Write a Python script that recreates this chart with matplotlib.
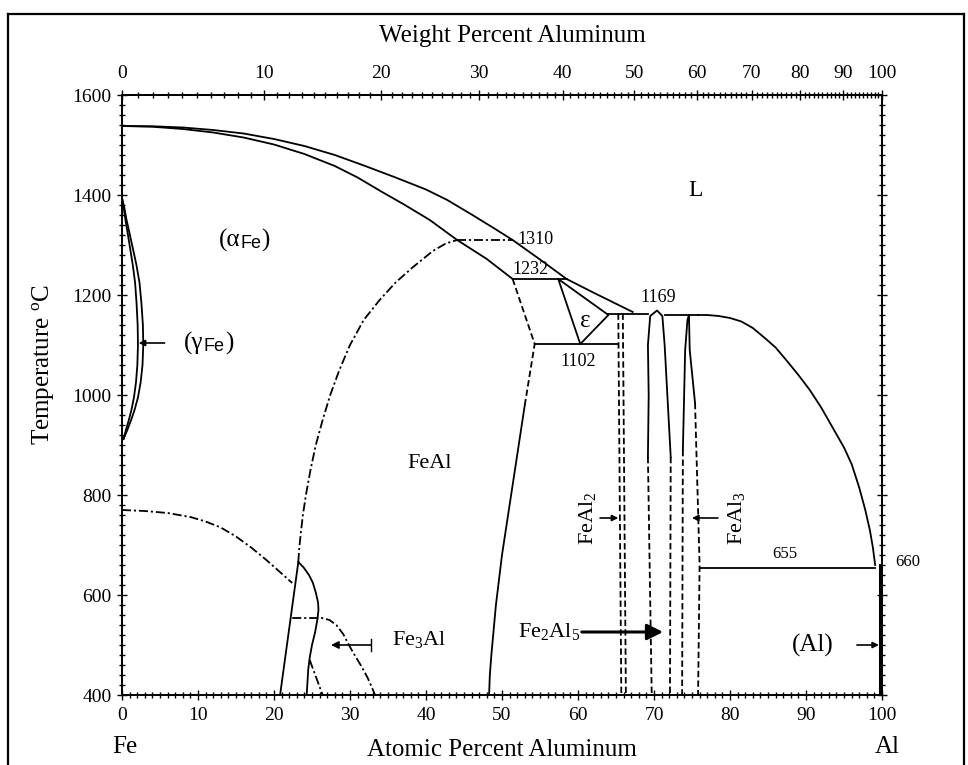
import numpy as np
import matplotlib.pyplot as plt
from matplotlib.ticker import MultipleLocator
from matplotlib.lines import Line2D

plt.rcParams['font.family'] = ['Liberation Serif', 'DejaVu Serif']
plt.rcParams['mathtext.fontset'] = 'custom'
plt.rcParams['mathtext.rm'] = 'Liberation Serif'
plt.rcParams['mathtext.it'] = 'Liberation Serif:italic'
plt.rcParams['mathtext.sf'] = 'Liberation Sans'

M_FE, M_AL = 55.845, 26.98

# liquidus / solidus on the Fe-rich side (at.% Al, deg C)
liq_x = [0, 4, 8, 12, 16, 20, 24, 28, 32, 36, 40, 42.8, 46, 49, 51.4, 55, 58.5, 62, 67.2]
liq_t = [1538, 1537.5, 1535, 1530, 1523, 1512, 1498, 1480, 1458, 1435, 1411, 1390, 1361, 1333, 1310,
         1271, 1232, 1205, 1166]
sol_x = [0, 4, 8, 12, 16, 20, 24, 28, 31, 34, 37, 40.5, 44.1, 48, 51.4]
sol_t = [1538, 1536.5, 1532, 1525, 1515, 1501, 1482, 1458, 1435, 1408, 1382, 1350, 1310, 1272, 1232]

# gamma loop
gam_t = [1394, 1375, 1350, 1330, 1295, 1260, 1225, 1185, 1140, 1100, 1060, 1025, 995, 970, 950, 930, 912]
gam_out = [0, 0.3, 0.6, 0.9, 1.4, 1.9, 2.3, 2.55, 2.75, 2.8, 2.7, 2.45, 2.1, 1.65, 1.2, 0.7, 0.2]
gam_in = [0, 0.22, 0.45, 0.68, 1.05, 1.42, 1.72, 1.91, 2.06, 2.1, 2.02, 1.84, 1.57, 1.24, 0.9, 0.52, 0.2]

# magnetic transition
cur_x = [0, 3, 6, 9, 11, 13, 15, 17, 19, 21, 22.4]
cur_t = [770, 768, 764, 756, 747, 735, 717, 695, 670, 643, 624]

# A2 / B2 ordering
b2_x = [23.2, 23.3, 23.5, 23.8, 24.2, 24.8, 25.5, 26.4, 27.4, 28.6, 30, 31.8, 33.9, 36, 38.3, 40.9,
        42.6, 44.1]
b2_t = [666, 690, 720, 760, 800, 850, 900, 950, 1000, 1050, 1100, 1150, 1190, 1225, 1256, 1288,
        1303, 1310]

# Fe3Al (D03) field
d03_left_x = [20.8, 23.2]
d03_left_t = [400, 666]
d03_right_x = [23.2, 23.9, 24.6, 25.1, 25.5, 25.8, 25.85, 25.7, 25.4, 25.0, 24.7, 24.5, 24.4, 24.3]
d03_right_t = [666, 655, 640, 625, 605, 585, 570, 550, 525, 500, 475, 450, 425, 400]
d03_dd_x = [22.4, 26.3, 27.3, 28.2, 29.1, 30, 30.8, 31.6, 32.3, 32.8, 33.3]
d03_dd_t = [554, 554, 550, 540, 522, 496, 475, 455, 435, 418, 400]
d03_short_x = [24.7, 26.4]
d03_short_t = [470, 400]

# FeAl (B2) Al-rich boundary
feal_dash_x = [51.4, 54.3, 53.0]
feal_dash_t = [1232, 1102, 980]
feal_x = [53.0, 52.5, 52.0, 51.5, 51.0, 50.5, 50.0, 49.6, 49.2, 48.9, 48.6, 48.4, 48.3]
feal_t = [980, 930, 880, 830, 780, 730, 680, 630, 580, 530, 480, 440, 400]

# epsilon triangle
eps_x = [57.4, 60.3, 64.0, 57.4]
eps_t = [1232, 1102, 1160, 1232]

# invariant lines: (x_start, x_end, T)
inv_lines = [(51.4, 58.5, 1232), (54.3, 65.3, 1102), (64.0, 69.2, 1163),
             (71.4, 75.8, 1160), (76.0, 99.1, 655)]
ord_1310 = (44.1, 51.4, 1310)

# FeAl2 double dashed boundaries
feal2_a = ([65.3, 65.7], [1163, 400])
feal2_b = ([65.9, 66.3], [1163, 400])

# Fe2Al5
fe2al5_x = [69.2, 69.3, 69.2, 69.5, 70.4, 71.1, 71.4, 72.2]
fe2al5_t = [876, 1000, 1100, 1158, 1169, 1158, 1100, 876]
fe2al5_dash_l = ([69.2, 69.7], [876, 400])
fe2al5_dash_r = ([72.2, 72.1], [876, 400])

# FeAl3
feal3_x = [73.8, 74.1, 74.4, 74.6, 74.7, 75.4]
feal3_t = [890, 1090, 1150, 1160, 1090, 984]
feal3_dash_l = ([73.8, 73.7], [890, 400])
feal3_dash_r = ([75.4, 76.0, 75.8], [984, 660, 400])

# Al-rich liquidus
liqal_x = [75.8, 77, 78.5, 80, 81.5, 83, 84.5, 86, 87.5, 89, 90.5, 92, 93.5, 95, 96, 97, 97.8, 98.4,
           98.8, 99.1]
liqal_t = [1160, 1160, 1158, 1154, 1147, 1134, 1115, 1095, 1068, 1040, 1010, 975, 935, 895, 862, 815,
           770, 730, 695, 660]

top_ticks = [0, 10, 20, 30, 40, 50, 60, 70, 80, 90, 100]


def at_to_wt(a):
    a = np.asarray(a, dtype=float)
    return 100 * a * M_AL / (a * M_AL + (100 - a) * M_FE)


def wt_to_at(w):
    w = np.asarray(w, dtype=float)
    return 100 * (w / M_AL) / (w / M_AL + (100 - w) / M_FE)


fig = plt.figure(figsize=(9.68, 7.65), dpi=100)
ax = fig.add_axes([122 / 968, 1 - 695 / 765, 760 / 968, 600 / 765])
ax.set_xlim(0, 100)
ax.set_ylim(400, 1600)

lw = 1.3
solid = dict(color='k', lw=lw, solid_joinstyle='round')
dashed = dict(color='k', lw=lw, ls=(0, (3.5, 1.8)))
dashdot = dict(color='k', lw=lw, ls=(0, (5, 1.6, 1.2, 1.6)))

ax.plot(liq_x, liq_t, **solid)
ax.plot(sol_x, sol_t, **solid)
ax.plot(gam_out, gam_t, **solid)
ax.plot(gam_in, gam_t, **solid)
ax.plot(cur_x, cur_t, **dashdot)
ax.plot(b2_x, b2_t, **dashdot)
ax.plot(ord_1310[:2], [ord_1310[2]] * 2, **dashdot)
ax.plot(d03_left_x, d03_left_t, **solid)
ax.plot(d03_right_x, d03_right_t, **solid)
ax.plot(d03_dd_x, d03_dd_t, **dashdot)
ax.plot(d03_short_x, d03_short_t, **dashdot)
ax.plot(feal_dash_x, feal_dash_t, **dashed)
ax.plot(feal_x, feal_t, **solid)
ax.plot(eps_x, eps_t, **solid)
for x0, x1, t in inv_lines:
    ax.plot([x0, x1], [t, t], **solid)
ax.plot(*feal2_a, **dashed)
ax.plot(*feal2_b, **dashed)
ax.plot(fe2al5_x, fe2al5_t, **solid)
ax.plot(*fe2al5_dash_l, **dashed)
ax.plot(*fe2al5_dash_r, **dashed)
ax.plot(feal3_x, feal3_t, **solid)
ax.plot(*feal3_dash_l, **dashed)
ax.plot(*feal3_dash_r, **dashed)
ax.plot(liqal_x, liqal_t, **solid)
ax.plot([99.8, 99.8], [400, 660], color='k', lw=2.2)

# axes, ticks
for s in ax.spines.values():
    s.set_linewidth(1.4)
ax.set_xticks(range(0, 101, 10))
ax.set_yticks(range(400, 1601, 200))
ax.xaxis.set_minor_locator(MultipleLocator(1))
ax.yaxis.set_minor_locator(MultipleLocator(20))
ax.tick_params(which='both', direction='inout', right=True, labelsize=14, width=1.0)
ax.tick_params(which='major', length=7)
ax.tick_params(which='minor', length=4)
ax.tick_params(axis='x', pad=5)
ax.tick_params(axis='y', pad=4)

secax = ax.secondary_xaxis('top', functions=(at_to_wt, wt_to_at))
secax.set_xticks(top_ticks)
secax.xaxis.set_minor_locator(MultipleLocator(1))
secax.tick_params(which='both', direction='inout', labelsize=14, width=1.0, pad=6)
secax.tick_params(which='major', length=7)
secax.tick_params(which='minor', length=4)
secax.spines['top'].set_linewidth(1.4)

# axis titles
fig.text(512 / 968, 1 - 36 / 765, 'Weight Percent Aluminum', ha='center', va='center', fontsize=18)
fig.text(502 / 968, 1 - 750 / 765, 'Atomic Percent Aluminum', ha='center', va='center', fontsize=18)
fig.text(125 / 968, 1 - 747 / 765, 'Fe', ha='center', va='center', fontsize=18)
fig.text(887 / 968, 1 - 747 / 765, 'Al', ha='center', va='center', fontsize=18)
fig.text(43 / 968, 1 - 365 / 765, r'Temperature $^{\mathrm{o}}$C', ha='center', va='center',
         rotation=90, fontsize=18)

# invariant temperatures
ax.text(52.0, 1310, '1310', fontsize=13, va='center', ha='left')
ax.text(53.7, 1250, '1232', fontsize=13, va='center', ha='center')
ax.text(60.0, 1068, '1102', fontsize=13, va='center', ha='center')
ax.text(70.6, 1196, '1169', fontsize=13, va='center', ha='center')
ax.text(87.2, 682, '655', fontsize=12, va='center', ha='center')
ax.text(101.8, 666, '660', fontsize=12, va='center', ha='left')

# phase labels
ax.text(75.5, 1410, 'L', fontsize=17, va='center', ha='center')
ax.text(61.0, 1148, 'ε', fontsize=18, va='center', ha='center')
ax.text(40.5, 864, 'FeAl', fontsize=16, va='center', ha='center')
ax.text(35.5, 510, r'Fe$_3$Al', fontsize=16, va='center', ha='left')
ax.text(90.9, 500, '(Al)', fontsize=18, va='center', ha='center')
ax.text(60.3, 526, r'Fe$_2$Al$_5$', fontsize=16, va='center', ha='right')
ax.text(61.3, 754, r'FeAl$_2$', fontsize=16, va='center', ha='center', rotation=90)
ax.text(80.9, 754, r'FeAl$_3$', fontsize=16, va='center', ha='center', rotation=90)

t1 = ax.text(12.7, 1296, '(α', fontsize=18, va='baseline', ha='left')
t2 = ax.annotate('Fe', xy=(1, 0), xycoords=t1, fontsize=13, va='bottom', ha='left',
                 family='Liberation Sans')
ax.annotate(')', xy=(1, 0), xycoords=t2, fontsize=18, va='bottom', ha='left')
g1 = ax.text(8.2, 1090, '(γ', fontsize=18, va='baseline', ha='left')
g2 = ax.annotate('Fe', xy=(1, 0), xycoords=g1, fontsize=13, va='bottom', ha='left',
                 family='Liberation Sans')
ax.annotate(')', xy=(1, 0), xycoords=g2, fontsize=18, va='bottom', ha='left')

# pointers
arrows = [((2.2, 1104), (5.6, 1104), 1.2, 9),
          ((27.5, 500), (32.8, 500), 1.2, 11),
          ((65.3, 754), (62.9, 754), 1.2, 9),
          ((75.0, 754), (78.4, 754), 1.2, 9),
          ((99.6, 500), (96.7, 500), 1.2, 9),
          ((71.2, 526), (60.5, 526), 2.2, 24)]
for head, tail, w, ms in arrows:
    ax.annotate('', xy=head, xytext=tail,
                arrowprops=dict(arrowstyle='-|>', color='k', lw=w, mutation_scale=ms,
                                shrinkA=0, shrinkB=0))
ax.plot([32.8, 32.8], [488, 512], color='k', lw=1.0)

# outer frame
for xs, ys in [([8, 8], [765, 14]), ([8, 964], [14, 14]), ([964, 964], [14, 765])]:
    fig.add_artist(Line2D(np.array(xs) / 968, 1 - np.array(ys) / 765, color='k', lw=1.6))

fig.savefig('out.png', dpi=100)
